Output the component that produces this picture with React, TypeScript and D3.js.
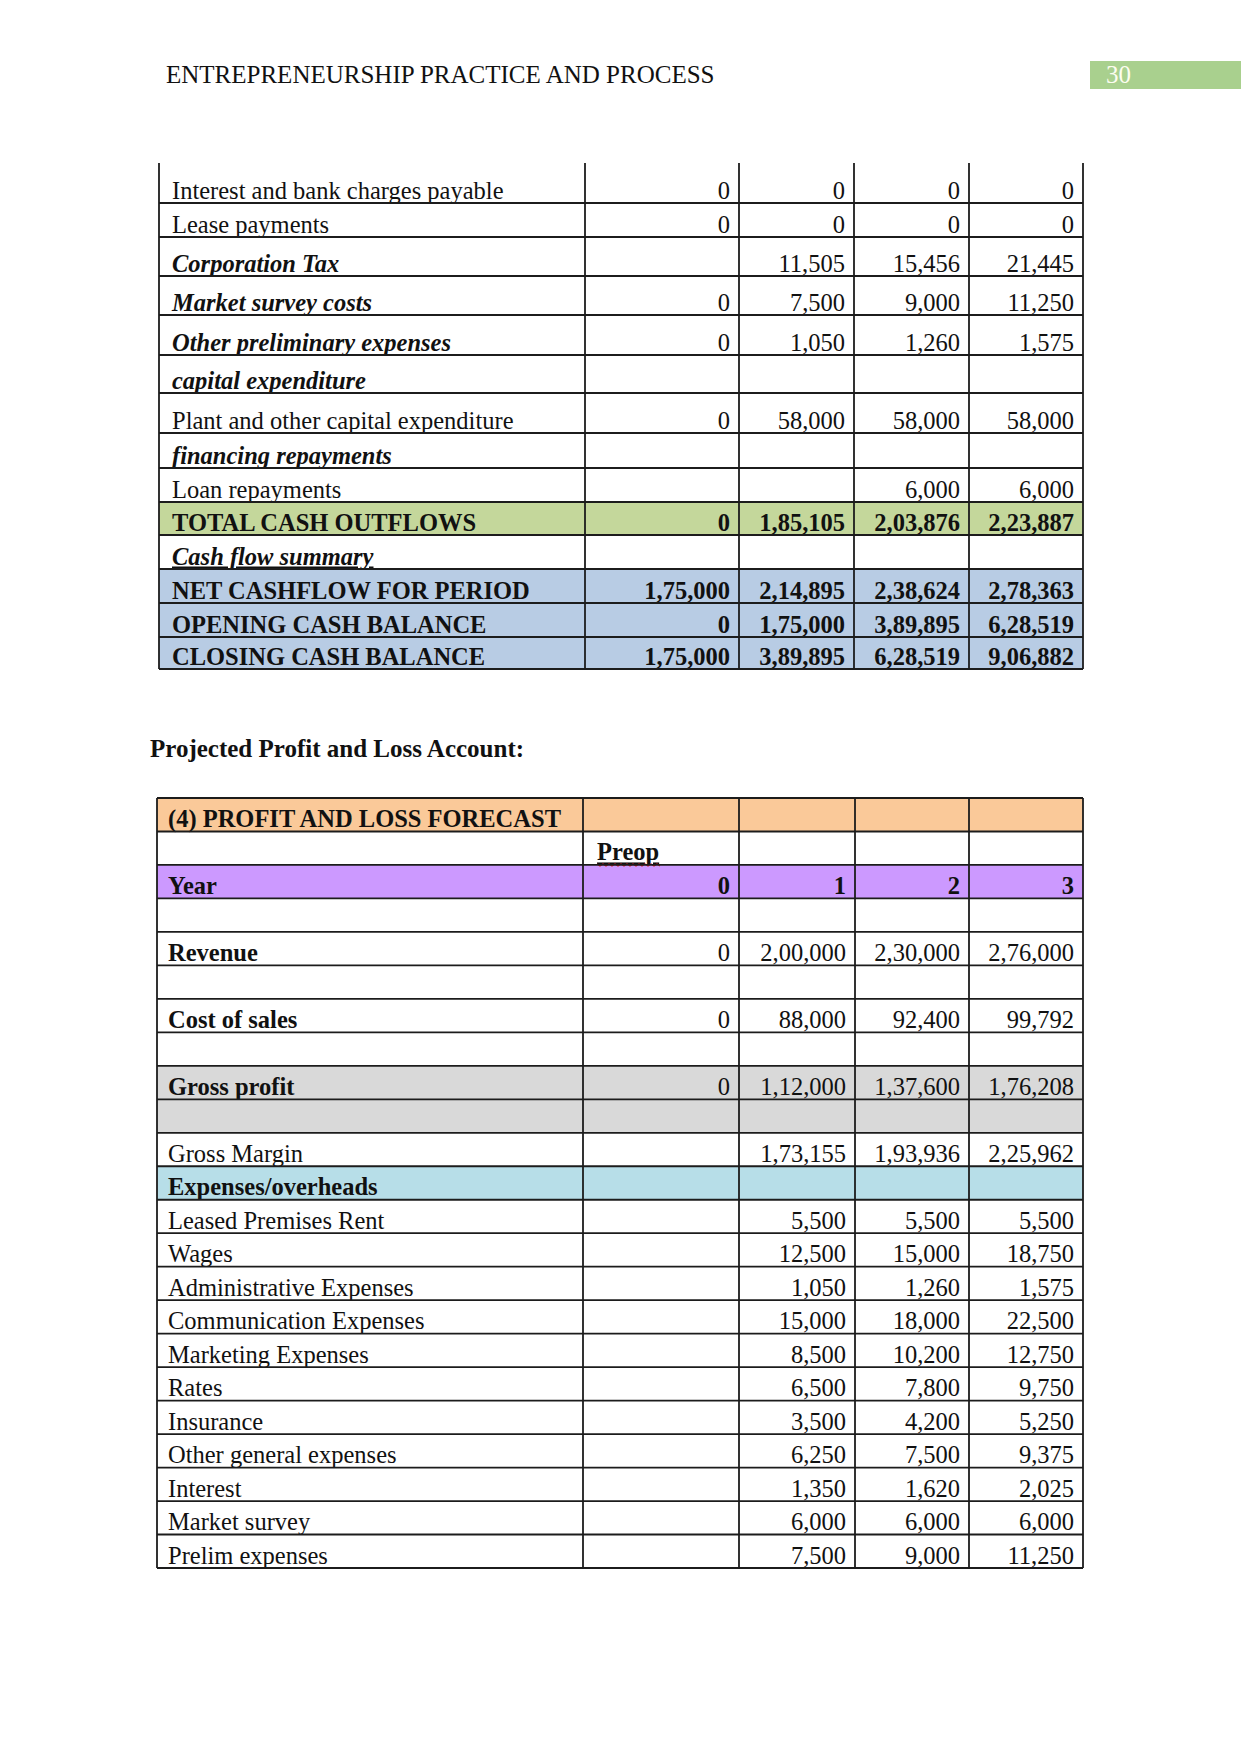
import React from "react";
import * as d3 from "d3";

// ---- cash flow table (continued from previous page) ----
const cashLabels = [
  "Interest and bank charges payable",
  "Lease payments",
  "Corporation Tax",
  "Market survey costs",
  "Other preliminary expenses",
  "capital expenditure",
  "Plant and other capital expenditure",
  "financing repayments",
  "Loan repayments",
  "TOTAL CASH OUTFLOWS",
  "Cash flow summary",
  "NET CASHFLOW FOR PERIOD",
  "OPENING CASH BALANCE",
  "CLOSING CASH BALANCE",
];
const cashPreop = [0, 0, null, 0, 0, null, 0, null, null, 0, null, 175000, 0, 175000];
const cashYear1 = [0, 0, 11505, 7500, 1050, null, 58000, null, null, 185105, null, 214895, 175000, 389895];
const cashYear2 = [0, 0, 15456, 9000, 1260, null, 58000, null, 6000, 203876, null, 238624, 389895, 628519];
const cashYear3 = [0, 0, 21445, 11250, 1575, null, 58000, null, 6000, 223887, null, 278363, 628519, 906882];

// ---- profit and loss forecast ----
const plLabels = [
  "(4) PROFIT AND LOSS FORECAST",
  "",
  "Year",
  "",
  "Revenue",
  "",
  "Cost of sales",
  "",
  "Gross profit",
  "",
  "Gross Margin",
  "Expenses/overheads",
  "Leased Premises Rent",
  "Wages",
  "Administrative Expenses",
  "Communication Expenses",
  "Marketing Expenses",
  "Rates",
  "Insurance",
  "Other general expenses",
  "Interest",
  "Market survey",
  "Prelim expenses",
];
const plYears = ["0", "1", "2", "3"];
const plPreop = [null, null, null, null, 0, null, 0, null, 0, null, null, null,
  null, null, null, null, null, null, null, null, null, null, null];
const plYear1 = [null, null, null, null, 200000, null, 88000, null, 112000, null, 173155, null,
  5500, 12500, 1050, 15000, 8500, 6500, 3500, 6250, 1350, 6000, 7500];
const plYear2 = [null, null, null, null, 230000, null, 92400, null, 137600, null, 193936, null,
  5500, 15000, 1260, 18000, 10200, 7800, 4200, 7500, 1620, 6000, 9000];
const plYear3 = [null, null, null, null, 276000, null, 99792, null, 176208, null, 225962, null,
  5500, 18750, 1575, 22500, 12750, 9750, 5250, 9375, 2025, 6000, 11250];

// ---- layout / styles ----
const FONT = "'Liberation Serif', 'Times New Roman', serif";
const LINE = "#1c1c1c";
const BASE = 4.5; // text baseline offset above the cell's bottom border
const cashRowHeights = [40, 34, 39, 39, 40, 38, 40, 35, 34, 33, 34, 34, 34, 32];
const cashStyle = ["n", "n", "bi", "bi", "bi", "bi", "n", "bi", "n", "b", "biu", "b", "b", "b"];
const cashFill: Record<number, string> = { 9: "#c4d79b", 11: "#b8cce4", 12: "#b8cce4", 13: "#b8cce4" };
const cashCols = [159, 585, 739, 854, 969, 1083];
const plCols = [157, 583, 739, 855, 969, 1083];
const plBold = new Set([0, 1, 2, 4, 6, 8, 11]);
const plFill: Record<number, string> = {
  0: "#fac999", 2: "#cc99ff", 8: "#d9d9d9", 9: "#d9d9d9", 11: "#b7dee8",
};

const indian = d3.formatLocale({
  decimal: ".",
  thousands: ",",
  grouping: [3, 2, 2, 2],
  currency: ["", ""],
});
const fmt = indian.format(",d");

const App = () => {
  const cashTops = [163, ...Array.from(d3.cumsum(cashRowHeights)).map((h) => 163 + h)];
  const cashY = (i: number) => cashTops[i];
  const cashBottom = cashTops[cashTops.length - 1];
  const cashValues = [cashPreop, cashYear1, cashYear2, cashYear3];

  const plY = d3.scaleBand<number>().domain(d3.range(plLabels.length)).range([798, 1568]);
  const plValues = [plPreop, plYear1, plYear2, plYear3];
  const bw = plY.bandwidth();

  // red spell-check squiggle under "Preop"
  const sq = d3.range(0, 22).map((k) => [597 + k * 3, 864 + (k % 2 ? 2 : 0)] as [number, number]);
  const squiggle = d3.line()(sq) || "";

  return (
    <svg
      width={1241}
      height={1754}
      style={{ position: "absolute", left: 0, top: 0, background: "#fff" }}
      fontFamily={FONT}
    >
      <rect width={1241} height={1754} fill="#fff" />
      {/* running header */}
      <text x={166} y={83} fontSize={25} fill="#111">
        ENTREPRENEURSHIP PRACTICE AND PROCESS
      </text>
      <rect x={1090} y={61} width={151} height={28} fill="#a9d08e" />
      <text x={1106} y={83} fontSize={25} fill="#fdfdf0">30</text>

      {/* cash flow table */}
      <g>
        {cashLabels.map((label, i) => {
          const y0 = cashY(i);
          const y1 = cashY(i + 1);
          const st = cashStyle[i];
          return (
            <g key={i}>
              {cashFill[i] && (
                <rect x={cashCols[0]} y={y0} width={cashCols[5] - cashCols[0]} height={y1 - y0} fill={cashFill[i]} />
              )}
              <text
                x={172}
                y={y1 - BASE}
                fontSize={24.5}
                fontWeight={st.includes("b") ? "bold" : "normal"}
                fontStyle={st.includes("i") ? "italic" : "normal"}
                textDecoration={st.includes("u") ? "underline" : undefined}
                fill="#111"
              >
                {label}
              </text>
              {cashValues.map((vals, c) =>
                vals[i] === null ? null : (
                  <text
                    key={c}
                    x={cashCols[c + 2] - 9}
                    y={y1 - BASE}
                    textAnchor="end"
                    fontSize={24.5}
                    fontWeight={st === "b" ? "bold" : "normal"}
                    fill="#111"
                  >
                    {fmt(vals[i] as number)}
                  </text>
                )
              )}
            </g>
          );
        })}
        {cashTops.slice(1).map((y, i) => (
          <line key={"h" + i} x1={cashCols[0]} x2={cashCols[5]} y1={y} y2={y} stroke={LINE} strokeWidth={1.8} />
        ))}
        {cashCols.map((x, i) => (
          <line key={"v" + i} x1={x} x2={x} y1={163} y2={cashBottom} stroke={LINE} strokeWidth={1.8} />
        ))}
      </g>

      <text x={150} y={757} fontSize={25} fontWeight="bold" fill="#111">
        Projected Profit and Loss Account:
      </text>

      {/* profit and loss table */}
      <g>
        {plLabels.map((label, i) => {
          const y0 = plY(i) as number;
          const y1 = y0 + bw;
          return (
            <g key={i}>
              {plFill[i] && (
                <rect x={plCols[0]} y={y0} width={plCols[5] - plCols[0]} height={bw} fill={plFill[i]} />
              )}
              {label && (
                <text
                  x={168}
                  y={y1 - BASE}
                  fontSize={24.5}
                  fontWeight={plBold.has(i) ? "bold" : "normal"}
                  fill="#111"
                >
                  {label}
                </text>
              )}
              {i === 2 &&
                plYears.map((yr, c) => (
                  <text key={c} x={plCols[c + 2] - 9} y={y1 - BASE} textAnchor="end" fontSize={24.5} fontWeight="bold" fill="#111">
                    {yr}
                  </text>
                ))}
              {plValues.map((vals, c) =>
                vals[i] === null ? null : (
                  <text key={c} x={plCols[c + 2] - 9} y={y1 - BASE} textAnchor="end" fontSize={24.5} fill="#111">
                    {fmt(vals[i] as number)}
                  </text>
                )
              )}
            </g>
          );
        })}
        <text
          x={597}
          y={(plY(1) as number) + bw - BASE}
          fontSize={24.5}
          fontWeight="bold"
          textDecoration="underline"
          fill="#111"
        >
          Preop
        </text>
        <path d={squiggle} fill="none" stroke="#e02020" strokeWidth={1.2} />
        {d3.range(plLabels.length + 1).map((i) => {
          const y = i === plLabels.length ? 1568 : (plY(i) as number);
          return <line key={"h" + i} x1={plCols[0]} x2={plCols[5]} y1={y} y2={y} stroke={LINE} strokeWidth={1.8} />;
        })}
        {plCols.map((x, i) => (
          <line key={"v" + i} x1={x} x2={x} y1={798} y2={1568} stroke={LINE} strokeWidth={1.8} />
        ))}
      </g>
    </svg>
  );
};

export default App;
